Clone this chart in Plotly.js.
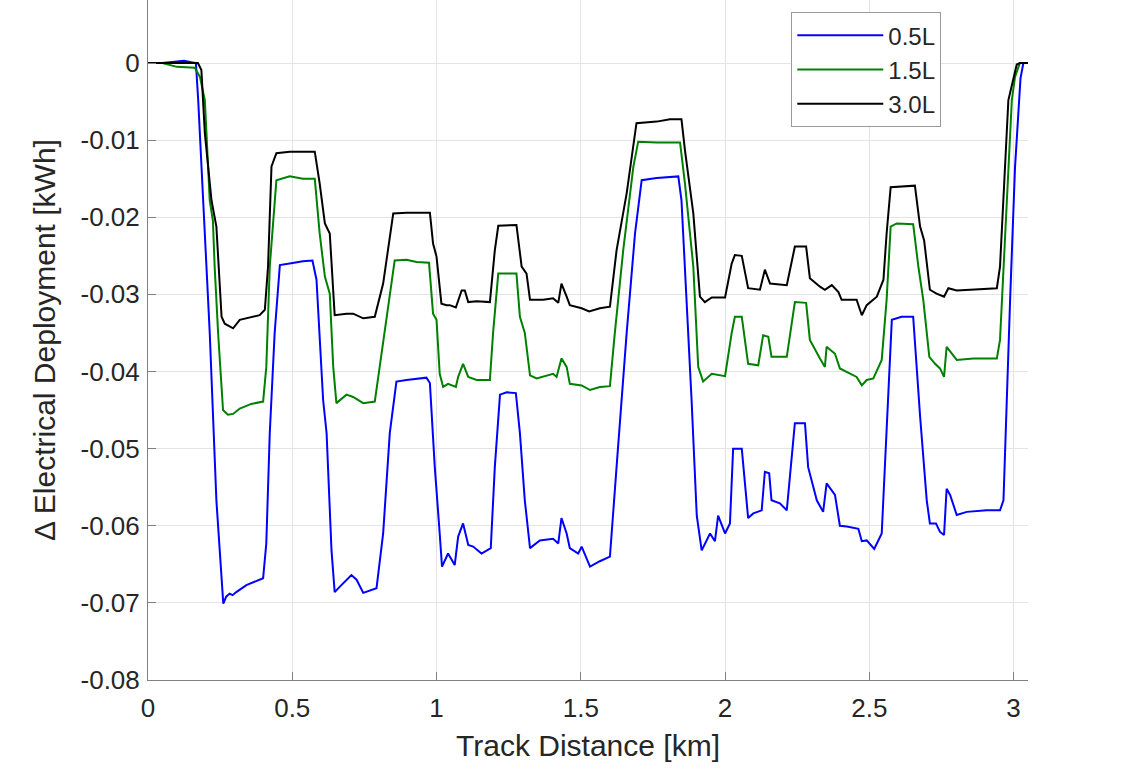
<!DOCTYPE html>
<html>
<head>
<meta charset="utf-8">
<script src="https://cdn.plot.ly/plotly-3.0.1.min.js"></script>
<style>
  html, body { margin: 0; padding: 0; background: #fff; }
  #chart { width: 1140px; height: 779px; }
</style>
</head>
<body>
<div id="chart"></div>
<script>
// values
var seriesNames = ['0.5L', '1.5L', '3.0L'];

var dist05 = [
  0, 0.05, 0.10, 0.125, 0.15, 0.166, 0.174, 0.214, 0.237, 0.261,
  0.271, 0.283, 0.293, 0.306, 0.341, 0.370, 0.399, 0.410, 0.422, 0.439,
  0.457, 0.491, 0.537, 0.570, 0.584, 0.607, 0.619, 0.636, 0.647, 0.665,
  0.705, 0.723, 0.746, 0.792, 0.815, 0.838, 0.861, 0.896, 0.965, 0.977,
  0.994, 1.011, 1.019, 1.040, 1.063, 1.075, 1.092, 1.110, 1.127, 1.156,
  1.188, 1.202, 1.220, 1.243, 1.275, 1.289, 1.306, 1.324, 1.358, 1.404,
  1.422, 1.433, 1.451, 1.462, 1.491, 1.503, 1.532, 1.566, 1.601, 1.624,
  1.659, 1.688, 1.711, 1.763, 1.838, 1.849, 1.867, 1.884, 1.902, 1.919,
  1.948, 1.965, 1.976, 2.000, 2.017, 2.028, 2.058, 2.080, 2.098, 2.127,
  2.138, 2.153, 2.161, 2.190, 2.214, 2.242, 2.277, 2.288, 2.318, 2.340,
  2.352, 2.381, 2.398, 2.422, 2.462, 2.474, 2.491, 2.517, 2.543, 2.560,
  2.578, 2.612, 2.652, 2.676, 2.699, 2.710, 2.731, 2.745, 2.759, 2.768,
  2.780, 2.803, 2.838, 2.907, 2.953, 2.965, 2.976, 2.988, 3.005, 3.015,
  3.024, 3.034, 3.05
];
var dep05 = [
  0, 0, 0.0002, 0.0003, 0.0001, 0, -0.0048, -0.035, -0.0567, -0.0701,
  -0.0692, -0.0688, -0.0690, -0.0686, -0.0677, -0.0673, -0.0668, -0.0623, -0.048, -0.035,
  -0.0262, -0.0260, -0.0257, -0.0256, -0.0281, -0.0437, -0.048, -0.0632, -0.0686, -0.0679,
  -0.0664, -0.0670, -0.0687, -0.0681, -0.061, -0.048, -0.0413, -0.0411, -0.0408, -0.0415,
  -0.0524, -0.061, -0.0653, -0.0636, -0.0651, -0.0614, -0.0597, -0.0625, -0.0627, -0.0636,
  -0.0629, -0.0524, -0.043, -0.0427, -0.0428, -0.048, -0.0567, -0.0629, -0.0619, -0.0617,
  -0.0623, -0.059, -0.061, -0.0629, -0.0636, -0.0627, -0.0653, -0.0646, -0.064, -0.0524,
  -0.035, -0.0221, -0.0152, -0.0149, -0.0147, -0.0178, -0.0307, -0.0437, -0.0587, -0.0632,
  -0.061, -0.062, -0.0587, -0.061, -0.0597, -0.050, -0.050, -0.059, -0.0584, -0.058,
  -0.053, -0.0532, -0.0567, -0.0571, -0.058, -0.0467, -0.0467, -0.0524, -0.0567, -0.0582,
  -0.0545, -0.056, -0.060, -0.0601, -0.0604, -0.062, -0.0619, -0.063, -0.061, -0.048,
  -0.0333, -0.0329, -0.0329, -0.0458, -0.0567, -0.0597, -0.0597, -0.0608, -0.0612, -0.0552,
  -0.056, -0.0586, -0.0582, -0.058, -0.058, -0.0567, -0.0437, -0.0307, -0.0135, -0.007,
  -0.002, 0, 0
];

var dist15 = [
  0, 0.05, 0.10, 0.162, 0.180, 0.197, 0.214, 0.225, 0.231, 0.243, 0.260,
  0.277, 0.295, 0.318, 0.358, 0.399, 0.410, 0.422, 0.445, 0.491, 0.537,
  0.578, 0.595, 0.613, 0.630, 0.642, 0.653, 0.688, 0.711, 0.746, 0.786,
  0.803, 0.827, 0.855, 0.896, 0.931, 0.974, 0.988, 1.000, 1.011, 1.023,
  1.040, 1.067, 1.075, 1.092, 1.110, 1.139, 1.185, 1.196, 1.214, 1.277,
  1.289, 1.306, 1.324, 1.347, 1.381, 1.404, 1.416, 1.433, 1.451, 1.462,
  1.503, 1.532, 1.566, 1.601, 1.618, 1.647, 1.682, 1.699, 1.763, 1.844,
  1.861, 1.890, 1.907, 1.924, 1.954, 2.000, 2.023, 2.034, 2.058, 2.080,
  2.115, 2.132, 2.150, 2.161, 2.214, 2.242, 2.281, 2.294, 2.329, 2.346,
  2.352, 2.381, 2.398, 2.456, 2.474, 2.491, 2.514, 2.543, 2.560, 2.574,
  2.595, 2.652, 2.670, 2.687, 2.708, 2.728, 2.745, 2.759, 2.768, 2.803,
  2.861, 2.942, 2.953, 2.965, 2.976, 2.994, 3.005, 3.022, 3.05
];
var dep15 = [
  0, 0, -0.0005, -0.0006, -0.0018, -0.0048, -0.0178, -0.0205, -0.0264, -0.035, -0.045,
  -0.0456, -0.0455, -0.0448, -0.0442, -0.0439, -0.0394, -0.0264, -0.0152, -0.0147, -0.015,
  -0.015, -0.0221, -0.0277, -0.0299, -0.0394, -0.0441, -0.043, -0.0433, -0.0441, -0.0439,
  -0.0394, -0.0329, -0.0256, -0.0255, -0.0258, -0.0259, -0.0325, -0.0333, -0.0403, -0.042,
  -0.0416, -0.042, -0.0407, -0.039, -0.0407, -0.0411, -0.0411, -0.035, -0.0273, -0.0273,
  -0.0329, -0.035, -0.0405, -0.0409, -0.0405, -0.0403, -0.0407, -0.0383, -0.0394, -0.0416,
  -0.0418, -0.0424, -0.042, -0.0419, -0.035, -0.0243, -0.0135, -0.0102, -0.0103, -0.0103,
  -0.0156, -0.0264, -0.0394, -0.0413, -0.0403, -0.0406, -0.035, -0.0329, -0.0329, -0.039,
  -0.0392, -0.0353, -0.0355, -0.0381, -0.0381, -0.031, -0.0311, -0.0359, -0.0383, -0.0394,
  -0.0368, -0.0377, -0.0396, -0.0407, -0.0418, -0.0411, -0.0409, -0.0385, -0.0307, -0.0212,
  -0.0208, -0.0209, -0.0264, -0.0307, -0.0381, -0.039, -0.0396, -0.0407, -0.0368, -0.0385,
  -0.0383, -0.0383, -0.0359, -0.0264, -0.0178, -0.0048, -0.0018, 0, 0
];

var dist30 = [
  0, 0.173, 0.185, 0.197, 0.220, 0.237, 0.255, 0.266, 0.295, 0.318,
  0.387, 0.405, 0.416, 0.428, 0.445, 0.491, 0.578, 0.595, 0.613, 0.630,
  0.647, 0.688, 0.711, 0.746, 0.786, 0.815, 0.850, 0.896, 0.977, 0.988,
  1.000, 1.017, 1.035, 1.046, 1.067, 1.087, 1.098, 1.110, 1.139, 1.185,
  1.202, 1.214, 1.277, 1.295, 1.312, 1.324, 1.370, 1.404, 1.422, 1.433,
  1.451, 1.462, 1.503, 1.529, 1.566, 1.601, 1.624, 1.659, 1.693, 1.763,
  1.809, 1.849, 1.861, 1.890, 1.913, 1.930, 1.954, 2.000, 2.023, 2.034,
  2.058, 2.080, 2.121, 2.138, 2.156, 2.214, 2.242, 2.281, 2.294, 2.329,
  2.346, 2.370, 2.393, 2.404, 2.456, 2.474, 2.491, 2.526, 2.549, 2.560,
  2.574, 2.612, 2.658, 2.676, 2.690, 2.710, 2.733, 2.759, 2.774, 2.803,
  2.861, 2.942, 2.953, 2.965, 2.982, 3.011, 3.022, 3.05
];
var dep30 = [
  0, 0, -0.0009, -0.0091, -0.0178, -0.0212, -0.0329, -0.0338, -0.0344, -0.0333,
  -0.0327, -0.032, -0.0264, -0.0134, -0.0117, -0.0115, -0.0115, -0.0156, -0.0208, -0.0221,
  -0.0327, -0.0325, -0.0325, -0.0331, -0.0329, -0.0286, -0.0195, -0.0194, -0.0194, -0.0234,
  -0.0251, -0.0312, -0.0314, -0.0314, -0.0317, -0.0295, -0.0295, -0.031, -0.0309, -0.031,
  -0.0243, -0.0211, -0.021, -0.0264, -0.0273, -0.0307, -0.0307, -0.0305, -0.0311, -0.0286,
  -0.0303, -0.0314, -0.0318, -0.0322, -0.0318, -0.0316, -0.0243, -0.0169, -0.0078, -0.0076,
  -0.0073, -0.0073, -0.0113, -0.0195, -0.0303, -0.031, -0.0304, -0.0304, -0.026, -0.0249,
  -0.025, -0.0292, -0.0294, -0.0268, -0.0286, -0.0288, -0.0238, -0.0238, -0.0279, -0.029,
  -0.0294, -0.0288, -0.0297, -0.0307, -0.0307, -0.0327, -0.0314, -0.0303, -0.0281, -0.0221,
  -0.0161, -0.016, -0.0159, -0.0212, -0.023, -0.0294, -0.0299, -0.0303, -0.0292, -0.0295,
  -0.0294, -0.0292, -0.0264, -0.0178, -0.0048, -0.0002, 0, 0
];

var xTicks = [0, 0.5, 1, 1.5, 2, 2.5, 3];
var xTickText = ['0', '0.5', '1', '1.5', '2', '2.5', '3'];
var yTicks = [0, -0.01, -0.02, -0.03, -0.04, -0.05, -0.06, -0.07, -0.08];
var yTickText = ['0', '-0.01', '-0.02', '-0.03', '-0.04', '-0.05', '-0.06', '-0.07', '-0.08'];

var lineColors = ['#0000ff', '#008000', '#000000'];
var allX = [dist05, dist15, dist30];
var allY = [dep05, dep15, dep30];

var data = seriesNames.map(function (name, i) {
  return {
    x: allX[i],
    y: allY[i],
    name: name,
    mode: 'lines',
    line: { color: lineColors[i], width: 2 }
  };
});

var fontFam = '"Liberation Sans", Arial, Helvetica, sans-serif';
var axisCol = '#808080';

var layout = {
  width: 1140,
  height: 779,
  margin: { l: 148, r: 112, t: 0, b: 99 },
  paper_bgcolor: '#ffffff',
  plot_bgcolor: '#ffffff',
  font: { family: fontFam, color: '#262626', size: 26 },
  showlegend: true,
  legend: {
    x: 0.731, y: 0.982,
    xanchor: 'left', yanchor: 'top',
    bgcolor: '#ffffff',
    bordercolor: '#9a9a9a',
    borderwidth: 1,
    itemwidth: 86,
    font: { family: fontFam, size: 24, color: '#262626' }
  },
  xaxis: {
    range: [0, 3.05],
    tickvals: xTicks,
    ticktext: xTickText,
    ticks: 'inside',
    ticklen: 8,
    tickcolor: axisCol,
    ticklabelstandoff: 5,
    showline: true,
    linecolor: axisCol,
    linewidth: 1,
    showgrid: true,
    gridcolor: '#e4e4e4',
    gridwidth: 1,
    zeroline: false,
    tickfont: { size: 26 },
    title: { text: 'Track Distance [km]', font: { size: 30 }, standoff: 12 }
  },
  yaxis: {
    range: [-0.08, 0.00817],
    tickvals: yTicks,
    ticktext: yTickText,
    ticks: 'inside',
    ticklen: 8,
    tickcolor: axisCol,
    ticklabelstandoff: 2,
    showline: true,
    linecolor: axisCol,
    linewidth: 1,
    showgrid: true,
    gridcolor: '#e4e4e4',
    gridwidth: 1,
    zeroline: false,
    tickfont: { size: 26 },
    title: { text: 'Δ Electrical Deployment [kWh]', font: { size: 30 }, standoff: 16 }
  }
};

Plotly.newPlot('chart', data, layout, { displayModeBar: false, staticPlot: true });
</script>
</body>
</html>
